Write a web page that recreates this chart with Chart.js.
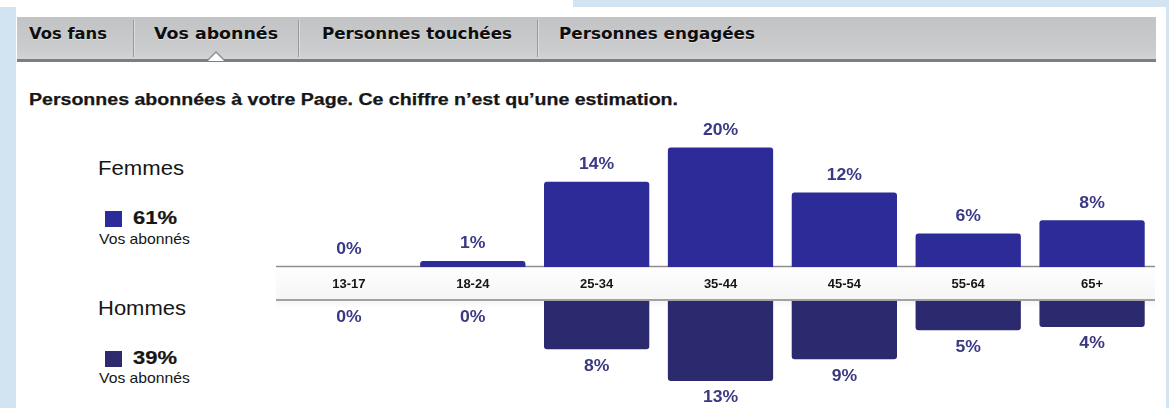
<!DOCTYPE html>
<html lang="fr">
<head>
<meta charset="utf-8">
<title>Vos abonnés</title>
<script src="https://cdn.jsdelivr.net/npm/chart.js@4.4.1/dist/chart.umd.min.js"></script>
<style>
  html, body { margin: 0; padding: 0; }
  body { width: 1169px; height: 408px; position: relative; overflow: hidden; background: #fff;
         font-family: "Liberation Sans", Arial, sans-serif; color: #161616; }
  .blue { position: absolute; background: #d2e3f2; }
  .txt { position: absolute; white-space: nowrap; line-height: 1; transform-origin: 0 0; }
  #tabbar { position: absolute; left: 17px; top: 17px; width: 1139px; height: 42px;
            background: linear-gradient(#c2c3c5, #cbccce 80%, #d3d4d6); border-bottom: 3px solid #778084; }
  .tab { font-family: "DejaVu Sans", sans-serif; font-weight: bold; font-size: 16.5px; color: #0e0e0e;
         text-shadow: 0 1px 0 rgba(255,255,255,.45); top: 26px; }
  .sep { position: absolute; top: 20px; width: 1px; height: 37px; background: #98999b; box-shadow: 1px 0 0 #dcdddf; }
  #caret { position: absolute; left: 207px; top: 51px; width: 0; height: 0;
           border-left: 9px solid transparent; border-right: 9px solid transparent; border-bottom: 9px solid #8a9194; }
  #caret::after { content: ""; position: absolute; left: -8px; top: 2px; width: 0; height: 0;
           border-left: 8px solid transparent; border-right: 8px solid transparent; border-bottom: 8px solid #fff; }
  h1 { margin: 0; font-size: 16px; font-weight: bold; top: 92px; left: 29px; -webkit-text-stroke: 0.25px #161616; }
  .sex { font-size: 20px; left: 98px; }
  .pct { font-size: 18px; font-weight: bold; left: 133px; -webkit-text-stroke: 0.2px #161616; }
  .sub { font-size: 14.5px; left: 99px; }
  .sq { position: absolute; left: 105px; width: 17px; height: 16px; }
  .box { position: absolute; left: 276px; width: 879px; }
  #band { position: absolute; left: 276px; top: 268px; width: 879px; height: 31px;
          background: linear-gradient(#fefefe, #f6f6f6); }
  #shade { position: absolute; left: 276px; top: 301px; width: 879px; height: 7px;
           background: linear-gradient(rgba(0,0,0,.04), rgba(0,0,0,0)); }
</style>
</head>
<body>
<div class="blue" style="left:0;top:7px;width:16px;height:401px"></div>
<div class="blue" style="left:573px;top:0;width:596px;height:7px"></div>
<div class="blue" style="left:1166px;top:0;width:3px;height:408px"></div>

<div id="tabbar"></div>
<div class="sep" style="left:133px"></div>
<div class="sep" style="left:298px"></div>
<div class="sep" style="left:537px"></div>
<div id="caret"></div>
<span class="txt tab" style="left:29px" data-w="78">Vos fans</span>
<span class="txt tab" style="left:154px" data-w="124">Vos abonnés</span>
<span class="txt tab" style="left:322px" data-w="190">Personnes touchées</span>
<span class="txt tab" style="left:559px" data-w="196">Personnes engagées</span>

<h1 class="txt" data-w="649">Personnes abonnées à votre Page. Ce chiffre n’est qu’une estimation.</h1>

<span class="txt sex" style="top:158px" data-w="86">Femmes</span>
<div class="sq" style="top:211px;background:#2c2b9a"></div>
<span class="txt pct" id="pctF" style="top:209px" data-w="44"></span>
<span class="txt sub" style="top:232px" data-w="91">Vos abonnés</span>

<span class="txt sex" style="top:298px" data-w="88">Hommes</span>
<div class="sq" style="top:351px;background:#2d2a6e"></div>
<span class="txt pct" id="pctH" style="top:349px" data-w="44"></span>
<span class="txt sub" style="top:371px" data-w="91">Vos abonnés</span>

<div id="band"></div>
<div id="shade"></div>
<div class="box" style="top:110px;height:190px"><canvas id="femmes"></canvas></div>
<div class="box" style="top:299px;height:109px"><canvas id="hommes"></canvas></div>

<script>
const ageGroups = ["13-17", "18-24", "25-34", "35-44", "45-54", "55-64", "65+"];
const femmes = [0, 1, 14.2, 19.9, 12.4, 5.6, 7.8];
const hommes = [0, 0, 7.8, 12.9, 9.4, 4.7, 4.2];
const shareFemmes = 61;
const shareHommes = 39;

document.getElementById("pctF").textContent = shareFemmes + "%";
document.getElementById("pctH").textContent = shareHommes + "%";

// stretch the html texts to the widths seen in the screenshot
document.querySelectorAll("[data-w]").forEach(el => {
	const k = +el.dataset.w / el.getBoundingClientRect().width;
	el.style.transform = `scaleX(${k})`;
});

const baseLine = {
	id: "baseLine",
	beforeDatasetsDraw(chart, args, opts) {
		const { ctx } = chart;
		const y = chart.scales.y.getPixelForValue(0) + opts.shift;
		ctx.save();
		ctx.strokeStyle = opts.color;
		ctx.lineWidth = opts.width;
		ctx.beginPath();
		ctx.moveTo(0, y);
		ctx.lineTo(chart.width, y);
		ctx.stroke();
		ctx.restore();
	},
};

// value labels, a bit wider than the font gives, like the screenshot
const barLabels = {
	id: "barLabels",
	afterDatasetsDraw(chart, args, opts) {
		const { ctx } = chart;
		const values = chart.data.datasets[0].data;
		ctx.save();
		ctx.font = 'bold 16px "Liberation Sans", Arial, sans-serif';
		ctx.fillStyle = opts.color;
		ctx.textAlign = "center";
		ctx.textBaseline = "middle";
		chart.getDatasetMeta(0).data.forEach((bar, i) => {
			ctx.save();
			ctx.translate(bar.x, bar.y + opts.offset);
			ctx.scale(1.1, 1);
			ctx.fillText(Math.round(values[i]) + "%", 0, 0);
			ctx.restore();
		});
		ctx.restore();
	},
};

const barStyle = {
	borderRadius: 3,
	borderSkipped: "start",
	barPercentage: 0.85,
	categoryPercentage: 1,
};

new Chart(document.getElementById("femmes"), {
	type: "bar",
	plugins: [baseLine, barLabels],
	data: {
		labels: ageGroups,
		datasets: [{ data: femmes, backgroundColor: "#2c2b97", ...barStyle }],
	},
	options: {
		responsive: true,
		maintainAspectRatio: false,
		animation: false,
		layout: { padding: { left: 11, right: 1, top: 10 } },
		plugins: {
			legend: { display: false },
			tooltip: { enabled: false },
			baseLine: { color: "#8e8e8e", width: 1.5, shift: -0.5 },
			barLabels: { color: "#3a3986", offset: -17 },
		},
		scales: {
			x: {
				grid: { display: false, drawTicks: false },
				border: { display: false },
				ticks: {
					color: "#161616",
					padding: 10,
					font: { family: '"Liberation Sans", Arial, sans-serif', size: 13, weight: "bold" },
				},
				afterFit: s => { s.height = 33; },
			},
			y: { display: false, min: 0, max: 24.5 },
		},
	},
});

new Chart(document.getElementById("hommes"), {
	type: "bar",
	plugins: [baseLine, barLabels],
	data: {
		labels: ageGroups,
		datasets: [{ data: hommes, backgroundColor: "#2b2a6f", ...barStyle }],
	},
	options: {
		responsive: true,
		maintainAspectRatio: false,
		animation: false,
		layout: { padding: { left: 11, right: 1, top: 2 } },
		plugins: {
			legend: { display: false },
			tooltip: { enabled: false },
			baseLine: { color: "#a2a2a2", width: 2, shift: -1 },
			barLabels: { color: "#3a3980", offset: 17 },
		},
		scales: {
			x: { display: false },
			y: { display: false, min: 0, max: 17.26, reverse: true },
		},
	},
});
</script>
</body>
</html>
